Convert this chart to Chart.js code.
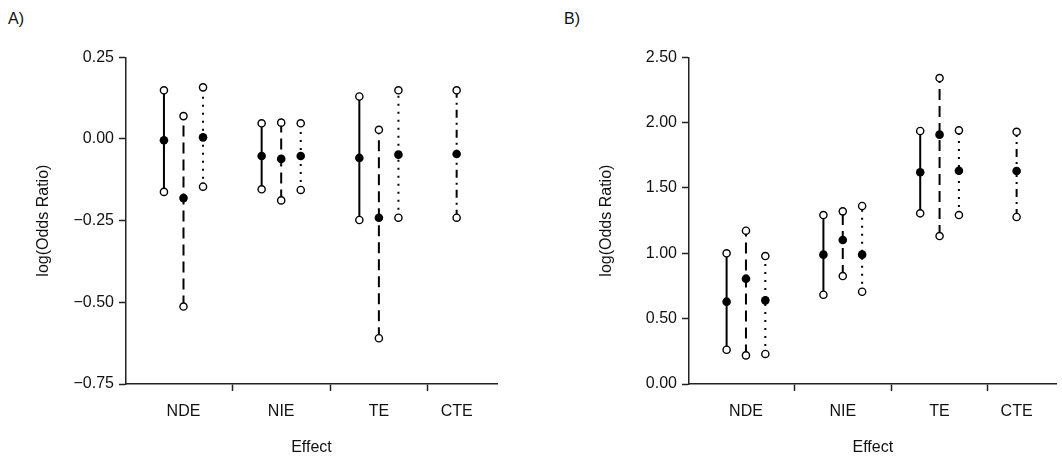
<!DOCTYPE html>
<html>
<head>
<meta charset="utf-8">
<script src="https://cdn.jsdelivr.net/npm/chart.js@4/dist/chart.umd.min.js"></script>
<style>
  html, body { margin:0; padding:0; background:#fff; }
  body { width:1062px; height:460px; position:relative; overflow:hidden; font-family:'Liberation Sans', Arial, sans-serif; }
  .panel { position:absolute; top:0; height:460px; }
  .tag { position:absolute; top:11px; font-size:16px; line-height:16px; color:#111; }
</style>
</head>
<body>
<div class="tag" style="left:8px">A)</div>
<div class="tag" style="left:564px">B)</div>
<div class="panel" style="left:0;width:531px"><canvas id="cA" width="531" height="460"></canvas></div>
<div class="panel" style="left:563px;width:499px"><canvas id="cB" width="499" height="460"></canvas></div>
<script>
// ---- data ----
const categories = ['NDE', 'NIE', 'TE', 'CTE'];
const seriesNames = ['Model 1', 'Model 2', 'Model 3', 'CTE model'];

// Panel A: log(Odds Ratio) estimates, lower and upper limits (per series, per category)
const estA1 = [-0.004, -0.052, -0.058, null];
const lowA1 = [-0.162, -0.154, -0.248, null];
const upA1  = [ 0.149,  0.048,  0.130, null];
const estA2 = [-0.181, -0.061, -0.241, null];
const lowA2 = [-0.513, -0.188, -0.610, null];
const upA2  = [ 0.070,  0.050,  0.028, null];
const estA3 = [ 0.005, -0.052, -0.048, null];
const lowA3 = [-0.146, -0.156, -0.241, null];
const upA3  = [ 0.158,  0.048,  0.149, null];
const estA4 = [null, null, null, -0.046];
const lowA4 = [null, null, null, -0.241];
const upA4  = [null, null, null,  0.149];
const yTicksA = [-0.75, -0.50, -0.25, 0.00, 0.25];

// Panel B
const estB1 = [0.630, 0.990, 1.620, null];
const lowB1 = [0.262, 0.683, 1.306, null];
const upB1  = [1.000, 1.293, 1.936, null];
const estB2 = [0.806, 1.102, 1.908, null];
const lowB2 = [0.219, 0.826, 1.132, null];
const upB2  = [1.173, 1.321, 2.341, null];
const estB3 = [0.640, 0.990, 1.632, null];
const lowB3 = [0.230, 0.706, 1.293, null];
const upB3  = [0.979, 1.362, 1.941, null];
const estB4 = [null, null, null, 1.630];
const lowB4 = [null, null, null, 1.278];
const upB4  = [null, null, null, 1.930];
const yTicksB = [0.00, 0.50, 1.00, 1.50, 2.00, 2.50];

// ---- layout / style ----
const catPos = [1, 2, 3, 3.796];
const seriesOffset = [-0.2, 0, 0.2, 0];
const dashes = [[], [11, 6], [2, 6], [8, 5, 2, 5]];
const FONT = "'Liberation Sans', Arial, sans-serif";
const INK = '#111';

function buildDatasets(est, low, up) {
  const ds = [];
  est.forEach((e, s) => {
    const ci = [], pts = [];
    categories.forEach((c, i) => {
      if (e[i] === null) return;
      const x = catPos[i] + seriesOffset[s];
      ci.push({x, y: low[s][i]}, {x, y: up[s][i]}, {x, y: null});
      pts.push({x, y: e[i]});
    });
    ds.push({
      type: 'line', label: seriesNames[s] + ' CI', data: ci, order: 2,
      borderColor: '#000', borderWidth: 2, borderDash: dashes[s], spanGaps: false,
      pointRadius: 3.6, pointBackgroundColor: '#fff', pointBorderColor: '#000', pointBorderWidth: 1.4,
      tension: 0, fill: false
    });
    ds.push({
      type: 'scatter', label: seriesNames[s], data: pts, order: 0,
      pointRadius: 4.3, pointBackgroundColor: '#000', pointBorderColor: '#000', pointBorderWidth: 0
    });
  });
  return ds;
}

function makeChart(id, est, low, up, yTicks, padRight) {
  const yMin = yTicks[0], yMax = yTicks[yTicks.length - 1];
  const xTickVals = [1, 1.5, 2, 2.5, 3, 3.5, catPos[3]];
  return new Chart(document.getElementById(id), {
    data: { datasets: buildDatasets(est, low, up) },
    options: {
      responsive: false, animation: false,
      layout: { padding: { left: 0, right: padRight, top: 57.3, bottom: 0 } },
      plugins: { legend: { display: false }, tooltip: { enabled: false } },
      scales: {
        x: {
          type: 'linear', min: 0.4115, max: 4.209,
          afterBuildTicks: sc => { sc.ticks = xTickVals.map(v => ({value: v})); },
          afterFit: sc => { sc.height = 76; },
          border: { display: true, color: '#222', width: 1.5 },
          grid: {
            drawOnChartArea: false, drawTicks: true, tickLength: 7, tickWidth: 1.5,
            tickColor: ctx => {
              const v = ctx.tick ? ctx.tick.value : null;
              return catPos.some(p => Math.abs(p - v) < 1e-6) ? 'rgba(0,0,0,0)' : '#222';
            }
          },
          ticks: {
            autoSkip: false, maxRotation: 0, padding: 11, color: INK,
            font: { family: FONT, size: 16 },
            callback: v => { const i = catPos.findIndex(p => Math.abs(p - v) < 1e-6); return i >= 0 ? categories[i] : ''; }
          },
          title: { display: true, text: 'Effect', color: INK, font: { family: FONT, size: 16 }, padding: { top: 0, bottom: 2.4 } }
        },
        y: {
          type: 'linear', min: yMin, max: yMax,
          afterBuildTicks: sc => { sc.ticks = yTicks.map(v => ({value: v})); },
          afterFit: sc => { sc.width = 126; },
          border: { display: true, color: '#222', width: 1.5 },
          grid: { drawOnChartArea: false, drawTicks: true, tickLength: 7, tickWidth: 1.5, tickColor: '#222' },
          ticks: {
            padding: 5, color: INK, font: { family: FONT, size: 16 },
            callback: v => (v < -1e-9 ? '\u2212' : '') + Math.abs(v).toFixed(2)
          },
          title: { display: true, text: 'log(Odds Ratio)', color: INK, font: { family: FONT, size: 16 }, padding: { top: 34.4, bottom: 0 } }
        }
      }
    }
  });
}

makeChart('cA', [estA1, estA2, estA3, estA4], [lowA1, lowA2, lowA3, lowA4], [upA1, upA2, upA3, upA4], yTicksA, 34);
makeChart('cB', [estB1, estB2, estB3, estB4], [lowB1, lowB2, lowB3, lowB4], [upB1, upB2, upB3, upB4], yTicksB, 2);
</script>
</body>
</html>
